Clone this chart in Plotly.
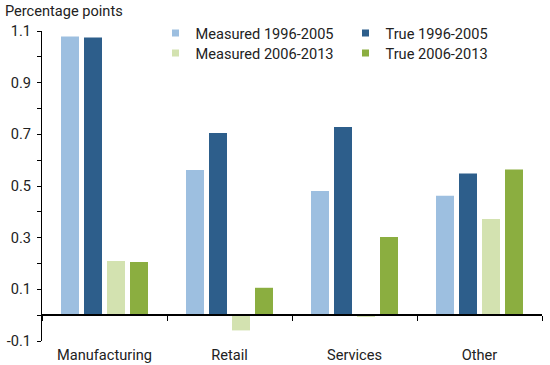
import plotly.graph_objects as go

categories = ["Manufacturing", "Retail", "Services", "Other"]
series_names = ["Measured 1996-2005", "True 1996-2005", "Measured 2006-2013", "True 2006-2013"]
measured_1996_2005 = [1.079, 0.562, 0.481, 0.462]
true_1996_2005 = [1.075, 0.705, 0.728, 0.548]
measured_2006_2013 = [0.210, -0.059, -0.005, 0.372]
true_2006_2013 = [0.206, 0.106, 0.303, 0.564]
colors = ["#9DBFE0", "#2D5E8B", "#D3E2B0", "#8BAE40"]
y_major_ticks = [-0.1, 0.1, 0.3, 0.5, 0.7, 0.9, 1.1]
y_minor_ticks = [0.0, 0.2, 0.4, 0.6, 0.8, 1.0]

series_values = [measured_1996_2005, true_1996_2005, measured_2006_2013, true_2006_2013]
legend_rows = ["legend", "legend", "legend2", "legend2"]

FONT = "Roboto"
TXT = "#222222"
FS = 14.6

fig = go.Figure()
for name, vals, col in zip(series_names, series_values, colors):
    fig.add_trace(go.Bar(x=categories, y=vals, name=name, marker=dict(color=col, line=dict(width=0)),
                         showlegend=False))
for name, col, lg in zip(series_names, colors, legend_rows):
    fig.add_trace(go.Scatter(x=[None], y=[None], mode="markers", name=name, legend=lg,
                             marker=dict(symbol="square", size=7, color=col)))

legend_common = dict(orientation="h", x=0.227, xanchor="left", yanchor="top", yref="container",
                     entrywidth=145, font=dict(family=FONT, size=FS, color=TXT),
                     bgcolor="rgba(0,0,0,0)", itemclick=False)

fig.update_layout(
    width=550, height=365,
    margin=dict(l=42, r=8, t=31, b=24, autoexpand=False),
    paper_bgcolor="white", plot_bgcolor="white",
    barmode="group", bargap=0.264, bargroupgap=0.217,
    font=dict(family=FONT, size=FS, color=TXT),
    title=dict(text="Percentage points", x=0.009, xanchor="left", xref="container",
               y=1 - 10.5 / 365, yanchor="middle", yref="container",
               font=dict(family=FONT, size=FS, color=TXT)),
    legend=dict(y=1 - 17 / 365, **legend_common),
    legend2=dict(y=1 - 37 / 365, **legend_common),
    showlegend=True,
)
fig.update_xaxes(
    type="category", categoryorder="array", categoryarray=categories,
    anchor="free", position=(0 - (-0.1)) / 1.2,
    showline=True, linecolor="black", linewidth=1.5,
    ticks="outside", ticklen=5, tickcolor="black", tickwidth=1.2, tickson="boundaries",
    ticklabelstandoff=27, showgrid=False, zeroline=False,
    tickfont=dict(family=FONT, size=FS, color=TXT),
)
fig.update_yaxes(
    range=[-0.1, 1.1], tickmode="array", tickvals=y_major_ticks,
    ticktext=[f"{v:.1f}" for v in y_major_ticks],
    showline=True, linecolor="black", linewidth=1,
    ticks="outside", ticklen=4, tickcolor="black", ticklabelstandoff=3,
    minor=dict(tickmode="array", tickvals=y_minor_ticks, ticks="outside", ticklen=4, tickcolor="black"),
    showgrid=False, zeroline=False,
    tickfont=dict(family=FONT, size=FS, color=TXT),
)

fig.write_html("out.html", config={"displayModeBar": False},
               post_script="document.body.style.margin='0';document.body.style.padding='0';")
